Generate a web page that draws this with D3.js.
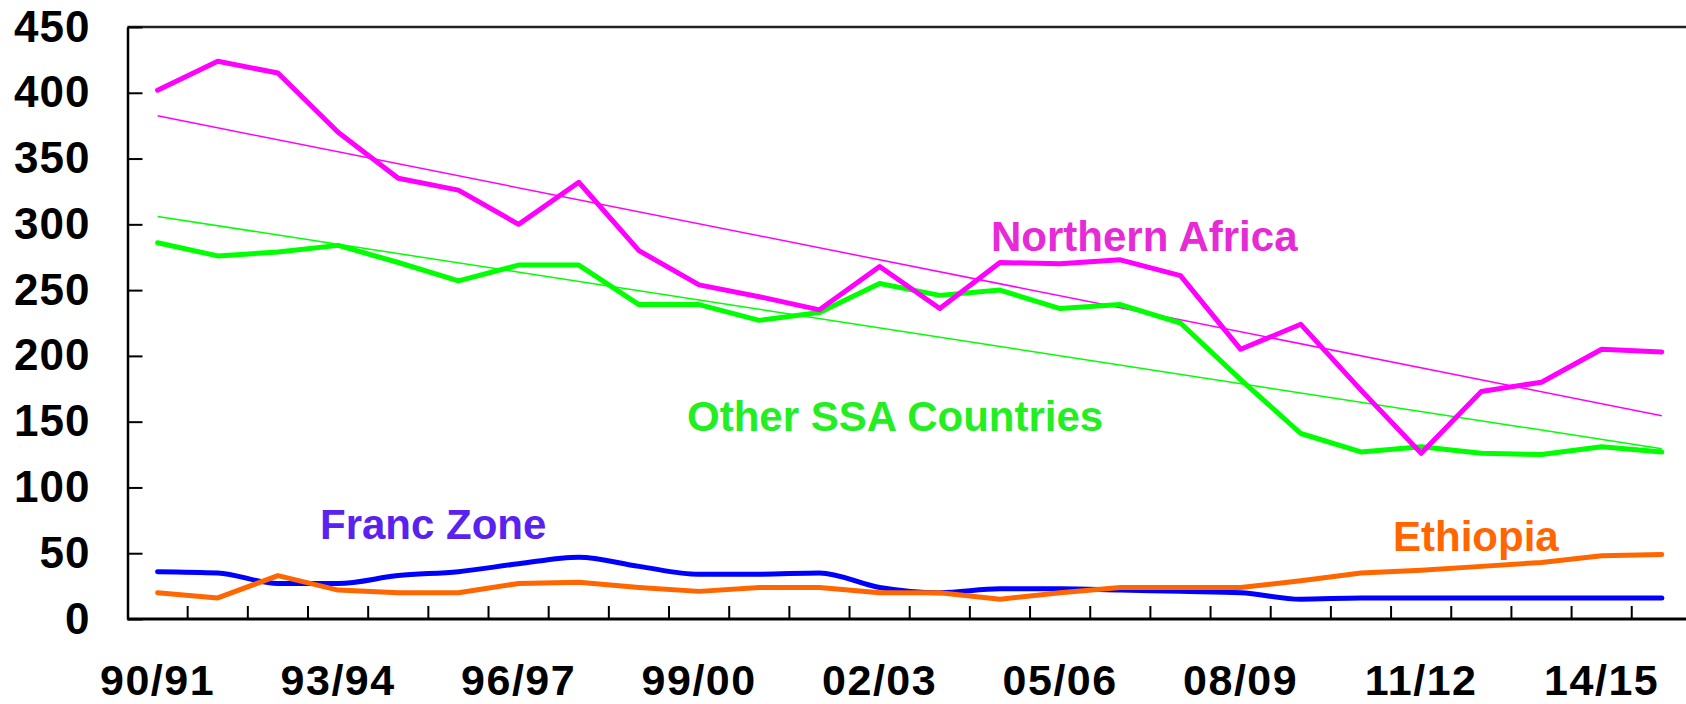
<!DOCTYPE html>
<html>
<head>
<meta charset="utf-8">
<script src="https://cdn.jsdelivr.net/npm/d3@7"></script>
<style>
  body { margin: 0; background: #fff; }
  svg { display: block; font-family: "Liberation Sans", Arial, Helvetica, sans-serif; font-weight: bold; }
</style>
</head>
<body>
<div id="chart"></div>
<script>
var years = ["90/91","91/92","92/93","93/94","94/95","95/96","96/97","97/98","98/99","99/00",
             "00/01","01/02","02/03","03/04","04/05","05/06","06/07","07/08","08/09","09/10",
             "10/11","11/12","12/13","13/14","14/15","15/16"];
var yearLabels = ["90/91","93/94","96/97","99/00","02/03","05/06","08/09","11/12","14/15"];
var yTicks = [0, 50, 100, 150, 200, 250, 300, 350, 400, 450];

var northernAfrica = [402, 424, 415, 370, 335, 326, 300, 332, 280, 254,
                      245, 235, 268, 236, 271, 270, 273, 261, 205, 224,
                      174, 126, 173, 180, 205, 203];
var otherSSA = [286, 276, 279, 284, 271, 257, 269, 269, 239, 239,
                227, 233, 255, 246, 250, 236, 239, 225, 182, 141,
                127, 131, 126, 125, 131, 127];
var francZone = [36, 35, 27, 27, 33, 36, 42, 47, 40, 34,
                 34, 35, 24, 20, 23, 23, 22, 21, 20, 15,
                 16, 16, 16, 16, 16, 16];
var ethiopia = [20, 16, 33, 22, 20, 20, 27, 28, 24, 21,
                24, 24, 20, 20, 15, 20, 24, 24, 24, 29,
                35, 37, 40, 43, 48, 49];

// trend lines: value at first and last year
var northernAfricaTrend = [382.5, 154.5];
var otherSSATrend = [306, 129.5];

var width = 1686;
var height = 704;
var plotLeft = 127.5;
var plotTop = 27;
var plotBottom = 619;
var step = 60.17;

var svg = d3.select("#chart").append("svg")
    .attr("width", width)
    .attr("height", height);

var xScale = d3.scaleBand()
    .domain(years)
    .range([plotLeft, plotLeft + step * years.length])
    .padding(0);

var yScale = d3.scaleLinear()
    .domain([0, 450])
    .range([plotBottom, plotTop]);

var cx = d => xScale(d) + xScale.bandwidth() / 2;

// frame
svg.append("line")
    .attr("x1", plotLeft).attr("x2", width)
    .attr("y1", yScale(450)).attr("y2", yScale(450))
    .attr("stroke", "#222").attr("stroke-width", 2.5);

var yAxis = svg.append("g")
    .attr("transform", "translate(" + plotLeft + ",0)")
    .call(d3.axisLeft(yScale).tickValues(yTicks).tickSize(-15).tickSizeOuter(0).tickPadding(37));
yAxis.select(".domain").attr("stroke", "#000").attr("stroke-width", 2.5);
yAxis.selectAll(".tick line").attr("stroke", "#000").attr("stroke-width", 2);
yAxis.selectAll("text")
    .style("font-size", "44px")
    .style("font-weight", "bold")
    .style("letter-spacing", "1px")
    .attr("fill", "#000");

svg.append("line")
    .attr("x1", plotLeft).attr("x2", width)
    .attr("y1", plotBottom).attr("y2", plotBottom)
    .attr("stroke", "#000").attr("stroke-width", 3);

// x ticks between years
svg.selectAll(".xtick")
    .data(years.slice(1))
    .enter()
    .append("line")
    .attr("class", "xtick")
    .attr("x1", d => xScale(d)).attr("x2", d => xScale(d))
    .attr("y1", plotBottom).attr("y2", plotBottom - 13)
    .attr("stroke", "#000").attr("stroke-width", 2);

var xAxis = svg.append("g")
    .attr("transform", "translate(0," + plotBottom + ")")
    .call(d3.axisBottom(xScale).tickValues(yearLabels).tickSize(0).tickPadding(45));
xAxis.select(".domain").remove();
xAxis.selectAll("text")
    .style("font-size", "43px")
    .style("font-weight", "bold")
    .style("letter-spacing", "1.5px")
    .attr("fill", "#000");

var first = years[0];
var last = years[years.length - 1];

function trend(vals, color) {
    svg.append("line")
        .attr("x1", cx(first)).attr("y1", yScale(vals[0]))
        .attr("x2", cx(last)).attr("y2", yScale(vals[1]))
        .attr("stroke", color)
        .attr("stroke-width", 1.5);
}
trend(northernAfricaTrend, "#ff00ff");
trend(otherSSATrend, "#00ff00");

function series(vals, color, curve) {
    var line = d3.line()
        .x((d, i) => cx(years[i]))
        .y(d => yScale(d))
        .curve(curve);
    svg.append("path")
        .datum(vals)
        .attr("d", line)
        .attr("fill", "none")
        .attr("stroke", color)
        .attr("stroke-width", 5)
        .attr("stroke-linejoin", "round")
        .attr("stroke-linecap", "round");
}
series(otherSSA, "#00ff00", d3.curveLinear);
series(northernAfrica, "#ff00ff", d3.curveLinear);
series(francZone, "#0000ff", d3.curveMonotoneX);
series(ethiopia, "#ff6600", d3.curveLinear);

var labels = [
    { text: "Northern Africa", x: 991, y: 251, color: "#e62ad6" },
    { text: "Other SSA Countries", x: 687, y: 431, color: "#22ee22" },
    { text: "Franc Zone", x: 320, y: 539, color: "#5a22ee" },
    { text: "Ethiopia", x: 1393, y: 551, color: "#ff6600" }
];
svg.selectAll(".series-label")
    .data(labels)
    .enter()
    .append("text")
    .attr("class", "series-label")
    .attr("x", d => d.x)
    .attr("y", d => d.y)
    .attr("fill", d => d.color)
    .style("font-size", "42px")
    .style("font-weight", "bold")
    .text(d => d.text);
</script>
</body>
</html>
